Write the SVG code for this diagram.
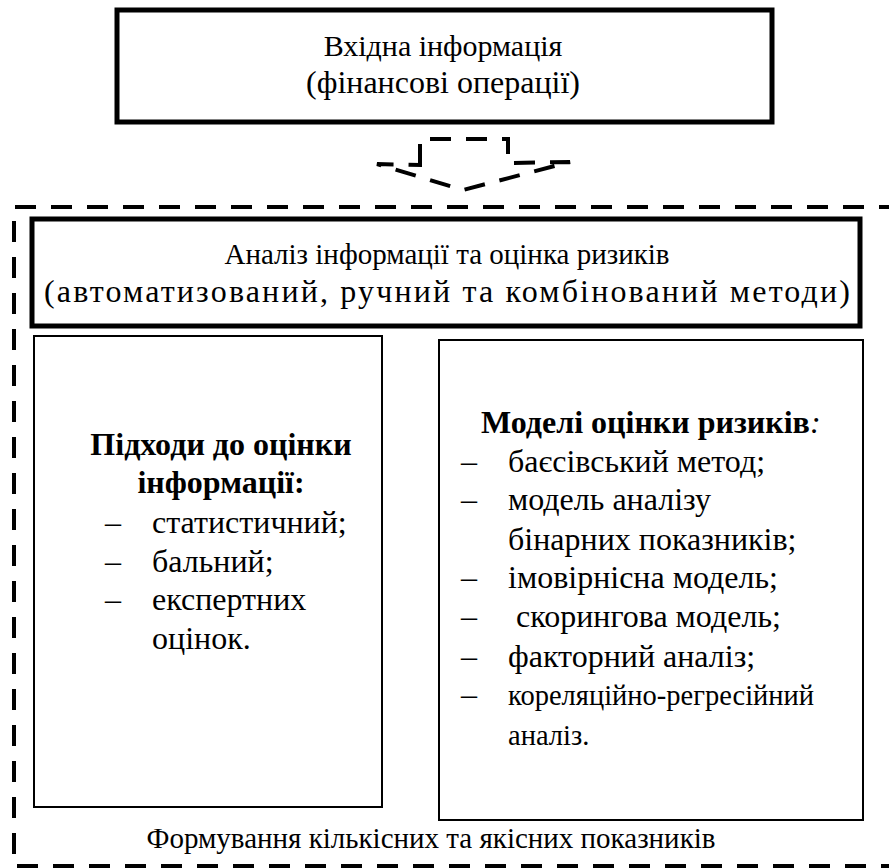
<svg xmlns="http://www.w3.org/2000/svg" width="889" height="868" viewBox="0 0 889 868">
<style>
text{fill:#000;font-family:'Liberation Serif','Times New Roman',serif;font-size:32px}
.b{font-weight:bold}
.c{text-anchor:middle}
.top{font-size:30px}
.mid{font-size:29px}
.sm{font-size:28.5px}
.thick{fill:#fff;stroke:#000;stroke-width:5}
.thin{fill:#fff;stroke:#000;stroke-width:2}
.dash{fill:none;stroke:#000;stroke-width:4;stroke-dasharray:21 15}
</style>
<rect width="889" height="868" fill="#fff"/>
<g id="connectors">
<path class="dash" d="M420 165 V139 H508 V163 L570 162 L463 190 L377 164 Z"/>
</g>
<g id="frame">
<path class="dash" d="M900 207 H14 V866 H900"/>
<text class="c mid" x="431" y="848">Формування кількісних та якісних показників</text>
</g>
<g id="input">
<rect class="thick" x="117" y="10" width="655" height="112"/>
<text class="c top" x="443" y="56">Вхідна інформація</text>
<text class="c" x="443" y="93">(фінансові операції)</text>
</g>
<g id="analysis">
<rect class="thick" x="32" y="219" width="828" height="107"/>
<text class="c mid" x="447" y="264">Аналіз інформації та оцінка ризиків</text>
<text class="c" x="447" y="302" font-size="33" textLength="806" lengthAdjust="spacing">(автоматизований, ручний та комбінований методи)</text>
</g>
<g id="approaches">
<rect class="thin" x="34" y="336" width="348" height="471"/>
<text class="b c" x="221" y="455">Підходи до оцінки</text>
<text class="b c" x="221" y="493">інформації:</text>
<text x="105" y="533">–</text><text x="152" y="533">статистичний;</text>
<text x="105" y="572">–</text><text x="152" y="572">бальний;</text>
<text x="105" y="610">–</text><text x="152" y="610">експертних</text>
<text x="152" y="649">оцінок.</text>
</g>
<g id="models">
<rect class="thin" x="439" y="340" width="424" height="480"/>
<text x="481" y="433"><tspan class="b">Моделі оцінки ризиків</tspan><tspan font-style="italic">:</tspan></text>
<text x="461" y="472">–</text><text x="508" y="472">баєсівський метод;</text>
<text x="461" y="510">–</text><text x="508" y="510">модель аналізу</text>
<text x="508" y="550">бінарних показників;</text>
<text x="461" y="588">–</text><text x="508" y="588">імовірнісна модель;</text>
<text x="461" y="627">–</text><text x="516" y="627">скорингова модель;</text>
<text x="461" y="667">–</text><text x="508" y="667">факторний аналіз;</text>
<text x="461" y="705">–</text><text class="sm" x="508" y="705">кореляційно-регресійний</text>
<text class="sm" x="508" y="745">аналіз.</text>
</g>
</svg>
